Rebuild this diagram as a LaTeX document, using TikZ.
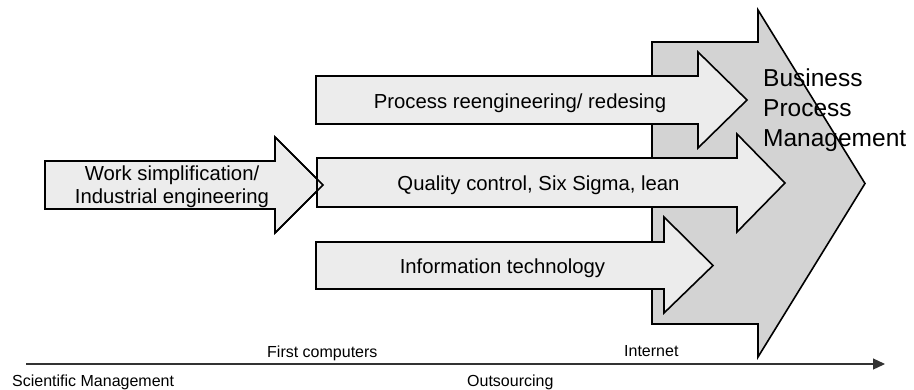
\documentclass[tikz,border=0pt]{standalone}
\usepackage{fontspec}
\setmainfont{Liberation Sans}
\usetikzlibrary{arrows.meta}
\definecolor{lightfill}{RGB}{236,236,236}
\definecolor{bpmfill}{RGB}{211,211,211}
\tikzset{
  phase/.style={draw=black, line width=1.6pt, line join=miter, fill=lightfill},
  phaseline/.style={draw=black, line width=1.6pt, line join=miter},
  bigphase/.style={draw=black, line width=1.6pt, line join=miter, fill=bpmfill},
  label/.style={inner sep=0pt, anchor=base, font=\fontsize{20.3}{24}\selectfont},
  timelabel/.style={inner sep=0pt, anchor=base west, font=\fontsize{16}{19}\selectfont},
  timeline/.style={draw=black!80, line width=1.2pt, -{Triangle[length=12pt,width=11pt]}}
}
\begin{document}
\begin{tikzpicture}[x=1pt, y=-1pt]
\useasboundingbox (0,0) rectangle (914,389);

% Business Process Management: the large grey block arrow in the back
\path[bigphase] (652,42) -- (758,42) -- (758,10) -- (865,183.5) -- (758,357)
  -- (758,324) -- (652,324) -- cycle;

% Process reengineering / redesign
\path[phase] (316,76) -- (698,76) -- (698,52) -- (747,100) -- (698,148)
  -- (698,124) -- (316,124) -- cycle;

% Information technology
\path[phase] (316,242) -- (664,242) -- (664,217) -- (713,265.5) -- (664,313)
  -- (664,289) -- (316,289) -- cycle;

% Work simplification / industrial engineering
\path[phase] (45,161) -- (275,161) -- (275,137) -- (323,185) -- (275,233)
  -- (275,209) -- (45,209) -- cycle;

% Quality control, Six Sigma, lean
\path[phase] (317,158) -- (737,158) -- (737,134) -- (785,183) -- (737,232)
  -- (737,207) -- (317,207) -- cycle;

% tip of the first arrow stays visible over the quality arrow
\path[phaseline] (275,137) -- (323,185) -- (275,233);

% arrow texts
\node[label] (work1) at (172,180) {Work simplification/};
\node[label] (work2) at (172,203) {Industrial engineering};
\node[label] (reeng) at (520,108) {Process reengineering/ redesing};
\node[label] (quality) at (538.5,190) {Quality control, Six Sigma, lean};
\node[label] (it) at (502.5,273) {Information technology};

% the base anchor of a multi-line node sits on its last line
\node[inner sep=0pt, anchor=base west, align=left,
      font=\fontsize{24.5}{30}\selectfont] (bpm) at (763,146)
  {Business\\Process\\Management};

% time axis with its milestones
\coordinate (t0) at (26,364);
\coordinate (t1) at (885,364);
\path[timeline] (t0) -- (t1);
\node[timelabel] (sci) at (12,386) {Scientific Management};
\node[timelabel] (comp) at (267,357) {First computers};
\node[timelabel] (outs) at (467,386) {Outsourcing};
\node[timelabel] (inet) at (624,356) {Internet};
\end{tikzpicture}
\end{document}
